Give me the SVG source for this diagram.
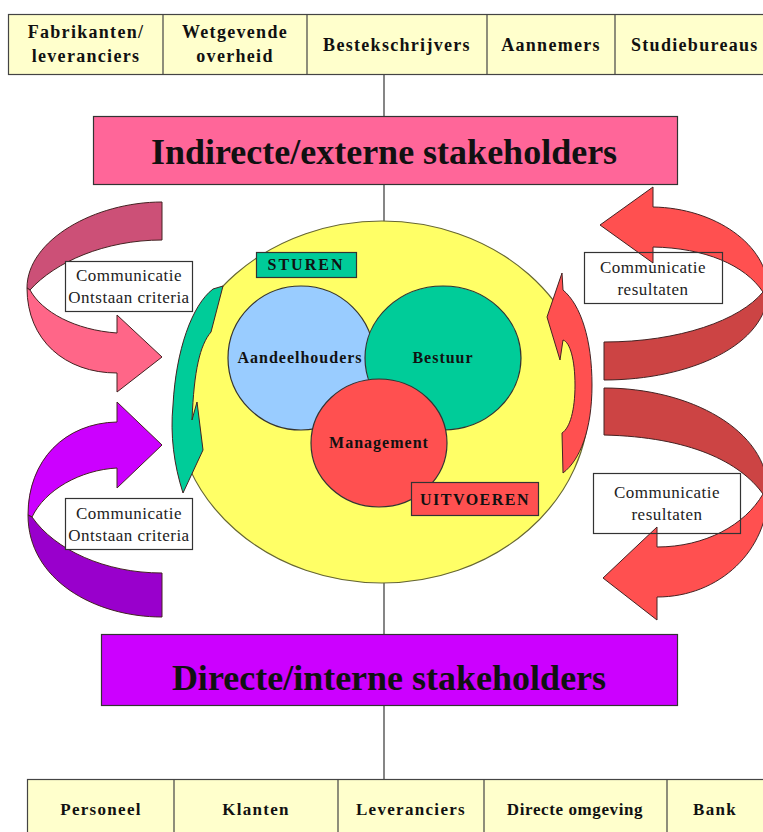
<svg xmlns="http://www.w3.org/2000/svg" width="763" height="832" viewBox="0 0 763 832">
<style>
.cell{fill:#FFFFCC;stroke:#444;stroke-width:1.2}
.div{stroke:#444;stroke-width:1.2}
.ct{font-family:"Liberation Serif",serif;font-weight:bold;font-size:18px;letter-spacing:1.3px;fill:#111;text-anchor:middle}
.title{font-family:"Liberation Serif",serif;font-weight:bold;font-size:36px;fill:#111;text-anchor:middle}
.lbl{font-family:"Liberation Serif",serif;font-weight:bold;font-size:16px;letter-spacing:1px;fill:#111;text-anchor:middle}
.com{font-family:"Liberation Serif",serif;font-size:17px;letter-spacing:0.5px;fill:#222;text-anchor:middle}
.box{stroke:#333;stroke-width:1.2}
.arr{stroke:#442222;stroke-width:1}
.conn{stroke:#444;stroke-width:1.3;fill:none}
</style>
<rect width="763" height="832" fill="#fff"/>
<g id="connectors">
<line class="conn" x1="384" y1="74" x2="384" y2="116"/>
<line class="conn" x1="384" y1="184" x2="384" y2="222"/>
<line class="conn" x1="384" y1="583" x2="384" y2="634"/>
<line class="conn" x1="384" y1="705" x2="384" y2="779"/>
</g>
<g id="top-row">
<rect class="cell" x="8.5" y="14.5" width="760" height="60"/>
<line class="div" x1="163" y1="14.5" x2="163" y2="74.5"/>
<line class="div" x1="307" y1="14.5" x2="307" y2="74.5"/>
<line class="div" x1="487" y1="14.5" x2="487" y2="74.5"/>
<line class="div" x1="615" y1="14.5" x2="615" y2="74.5"/>
<text class="ct" x="86" y="38">Fabrikanten/</text>
<text class="ct" x="86" y="62">leveranciers</text>
<text class="ct" x="235" y="38">Wetgevende</text>
<text class="ct" x="235" y="62">overheid</text>
<text class="ct" x="397" y="51">Bestekschrijvers</text>
<text class="ct" x="551" y="51">Aannemers</text>
<text class="ct" x="631" y="51" style="text-anchor:start">Studiebureaus</text>
</g>
<g id="indirect">
<rect x="93.5" y="116.5" width="584" height="68" fill="#FF6699" class="box"/>
<text class="title" x="384" y="164">Indirecte/externe stakeholders</text>
</g>
<g id="organisation">
<ellipse cx="382" cy="402" rx="207" ry="181" fill="#FFFF66" stroke="#666633" stroke-width="1.2"/>
</g>
<g id="sturen">
<rect x="256.5" y="252.5" width="100" height="25" fill="#00CC99" class="box"/>
<text class="lbl" x="306" y="270" style="letter-spacing:2px">STUREN</text>
</g>
<g id="aandeelhouders">
<ellipse cx="301" cy="358" rx="73" ry="72" fill="#99CCFF" stroke="#333" stroke-width="1.2"/>
</g>
<g id="bestuur">
<ellipse cx="443" cy="358" rx="78" ry="72" fill="#00CC99" stroke="#333" stroke-width="1.2"/>
<text class="lbl" x="443" y="363">Bestuur</text>
</g>
<g id="aandeelhouders-label">
<text class="lbl" x="300" y="363">Aandeelhouders</text>
</g>
<g id="management">
<ellipse cx="379" cy="443" rx="68" ry="64" fill="#FF5050" stroke="#333" stroke-width="1.2"/>
<text class="lbl" x="379" y="448">Management</text>
</g>
<g id="uitvoeren">
<rect x="411.5" y="482.5" width="127" height="33" fill="#FF5050" class="box"/>
<text class="lbl" x="475" y="505" style="letter-spacing:1.5px">UITVOEREN</text>
</g>
<g id="sturen-arrow">
<path class="arr" fill="#00CC99" d="M223,286 L211,332 C200,345 194,370 192,420 L197,402 L203,450 L183,493 C174,465 170,435 173,405 C176,350 192,305 213,289 Z"/>
</g>
<g id="uitvoeren-arrow">
<path class="arr" fill="#FF5050" d="M562,273 L563,290 C581,305 592,340 592,385 C592,430 580,460 563,473 L562,433 C570,428 575,410 575,385 C575,360 570,342 563,340 L560,360 L547,317 Z"/>
</g>
<g id="arrow-left-top">
<path class="arr" fill="#CC5077" d="M162,202 C95,202 27,240 27,288 L30,290 C55,262 105,240 162,240 Z"/>
<path class="arr" fill="#FF6688" d="M27,288 C27,340 65,373 117,373 L117,392 L162,357 L117,315 L117,333 C75,330 42,312 30,290 Z"/>
</g>
<g id="arrow-left-bottom">
<path class="arr" fill="#CC00FF" d="M117,422 C65,423 28,460 28,515 L32,517 C45,490 80,470 117,468 L117,488 L162,445 L117,402 Z"/>
<path class="arr" fill="#9900CC" d="M28,515 C28,580 95,617 162,617 L162,573 C105,573 55,550 32,517 Z"/>
</g>
<g id="arrow-right-top">
<path class="arr" fill="#FF5050" d="M653,207 C715,208 768,245 768,290 L763,292 C745,265 705,248 653,247 L653,263 L600,225 L653,187 Z"/>
<path class="arr" fill="#CC4444" d="M768,290 C768,345 690,380 604,380 L604,342 C680,342 740,320 763,292 Z"/>
</g>
<g id="arrow-right-bottom">
<path class="arr" fill="#CC4444" d="M604,388 C690,388 768,430 768,492 L763,494 C740,462 690,437 604,435 Z"/>
<path class="arr" fill="#FF5050" d="M768,492 C768,550 720,597 657,597 L657,620 L603,578 L657,527 L657,547 C705,547 745,525 763,494 Z"/>
</g>
<g id="label-left-top">
<rect x="65.5" y="261.5" width="127" height="50" fill="#fff" class="box"/>
<text class="com" x="129" y="281">Communicatie</text>
<text class="com" x="129" y="303">Ontstaan criteria</text>
</g>
<g id="label-left-bottom">
<rect x="65.5" y="498.5" width="127" height="51" fill="#fff" class="box"/>
<text class="com" x="129" y="519">Communicatie</text>
<text class="com" x="129" y="541">Ontstaan criteria</text>
</g>
<g id="label-right-top">
<rect x="584.5" y="252.5" width="138" height="51" fill="none" class="box"/>
<text class="com" x="653" y="273">Communicatie</text>
<text class="com" x="653" y="295">resultaten</text>
</g>
<g id="label-right-bottom">
<rect x="593.5" y="473.5" width="147" height="60" fill="none" class="box"/>
<text class="com" x="667" y="498">Communicatie</text>
<text class="com" x="667" y="520">resultaten</text>
</g>
<g id="direct">
<rect x="101.5" y="634.5" width="576" height="71" fill="#CC00FF" class="box"/>
<text class="title" x="389" y="690">Directe/interne stakeholders</text>
</g>
<g id="bottom-row">
<rect class="cell" x="27.5" y="779.5" width="745" height="60"/>
<line class="div" x1="174" y1="779.5" x2="174" y2="832"/>
<line class="div" x1="338" y1="779.5" x2="338" y2="832"/>
<line class="div" x1="484" y1="779.5" x2="484" y2="832"/>
<line class="div" x1="667" y1="779.5" x2="667" y2="832"/>
<text class="ct" x="101" y="815" style="font-size:17px">Personeel</text>
<text class="ct" x="256" y="815" style="font-size:17px">Klanten</text>
<text class="ct" x="411" y="815" style="font-size:17px">Leveranciers</text>
<text class="ct" x="575" y="815" style="font-size:17px;letter-spacing:0.6px">Directe omgeving</text>
<text class="ct" x="715" y="815" style="font-size:17px">Bank</text>
</g>
</svg>
